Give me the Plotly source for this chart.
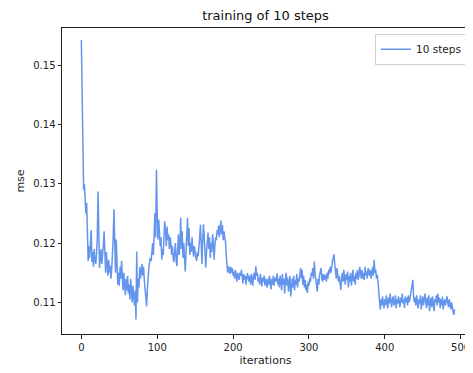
import plotly.graph_objects as go

series_name = "10 steps"
chart_title = "training of 10 steps"
x_label = "iterations"
y_label = "mse"
x_tick_vals = [0, 100, 200, 300, 400, 500]
y_tick_vals = [0.11, 0.12, 0.13, 0.14, 0.15]
y_tick_text = ["0.11", "0.12", "0.13", "0.14", "0.15"]

mse = [
    0.1543, 0.1420, 0.1345, 0.1290, 0.1300, 0.1262, 0.1250, 0.1268, 0.1215, 0.1170,
    0.1195, 0.1175, 0.1200, 0.1222, 0.1168, 0.1185, 0.1160, 0.1190, 0.1172, 0.1165,
    0.1180, 0.1210, 0.1287, 0.1200, 0.1158, 0.1175, 0.1190, 0.1165, 0.1178, 0.1195,
    0.1220, 0.1170, 0.1150, 0.1185, 0.1160, 0.1145, 0.1172, 0.1150, 0.1162, 0.1140,
    0.1155, 0.1175, 0.1210, 0.1257, 0.1190, 0.1150, 0.1206, 0.1165, 0.1130, 0.1150,
    0.1128, 0.1160, 0.1140, 0.1170, 0.1135, 0.1120, 0.1150, 0.1132, 0.1112, 0.1140,
    0.1120, 0.1145, 0.1115, 0.1130, 0.1105, 0.1140, 0.1122, 0.1100, 0.1128, 0.1110,
    0.1095, 0.1120, 0.1071, 0.1186, 0.1100, 0.1140, 0.1125, 0.1160, 0.1140, 0.1152,
    0.1165, 0.1145, 0.1160, 0.1138, 0.1120, 0.1105, 0.1093, 0.1120, 0.1150, 0.1160,
    0.1167, 0.1175, 0.1170, 0.1184, 0.1200, 0.1180, 0.1230, 0.1251, 0.1210, 0.1324,
    0.1250, 0.1206, 0.1240, 0.1215, 0.1195, 0.1210, 0.1172, 0.1190, 0.1180, 0.1215,
    0.1237, 0.1220, 0.1195, 0.1228, 0.1205, 0.1215, 0.1190, 0.1210, 0.1200, 0.1180,
    0.1195, 0.1175, 0.1168, 0.1185, 0.1200, 0.1170, 0.1161, 0.1190, 0.1215, 0.1180,
    0.1200, 0.1243, 0.1190, 0.1220, 0.1175, 0.1200, 0.1160, 0.1152, 0.1185, 0.1210,
    0.1243, 0.1195, 0.1225, 0.1180, 0.1201, 0.1185, 0.1210, 0.1190, 0.1177, 0.1195,
    0.1180, 0.1175, 0.1170, 0.1185, 0.1178, 0.1190, 0.1210, 0.1231, 0.1200, 0.1165,
    0.1205, 0.1232, 0.1210, 0.1190, 0.1159, 0.1185, 0.1200, 0.1218, 0.1190, 0.1210,
    0.1175, 0.1200, 0.1185, 0.1215, 0.1200, 0.1172, 0.1195, 0.1210, 0.1205, 0.1222,
    0.1215, 0.1230, 0.1210, 0.1225, 0.1238, 0.1215, 0.1230, 0.1205, 0.1220, 0.1210,
    0.1203, 0.1180, 0.1165, 0.1150, 0.1161, 0.1155, 0.1148, 0.1160, 0.1150, 0.1158,
    0.1145, 0.1152, 0.1140, 0.1155, 0.1148, 0.1135, 0.1150, 0.1142, 0.1138, 0.1150,
    0.1145, 0.1155, 0.1140, 0.1132, 0.1148, 0.1138, 0.1145, 0.1130, 0.1142, 0.1150,
    0.1140, 0.1135, 0.1145, 0.1130, 0.1148, 0.1140, 0.1128, 0.1145, 0.1150, 0.1138,
    0.1161, 0.1145, 0.1150, 0.1135, 0.1142, 0.1130, 0.1148, 0.1138, 0.1127, 0.1142,
    0.1135, 0.1145, 0.1128, 0.1140, 0.1132, 0.1125, 0.1140, 0.1130, 0.1145, 0.1135,
    0.1122, 0.1140, 0.1130, 0.1145, 0.1128, 0.1138, 0.1142, 0.1135, 0.1149, 0.1130,
    0.1140, 0.1125, 0.1145, 0.1135, 0.1120, 0.1148, 0.1130, 0.1140, 0.1115, 0.1138,
    0.1150, 0.1128, 0.1142, 0.1118, 0.1135, 0.1145, 0.1110, 0.1130, 0.1140, 0.1125,
    0.1145, 0.1120, 0.1138, 0.1130, 0.1148, 0.1125, 0.1140, 0.1135, 0.1150, 0.1158,
    0.1140, 0.1155, 0.1130, 0.1145, 0.1125, 0.1138, 0.1120, 0.1130, 0.1116, 0.1135,
    0.1128, 0.1140, 0.1135, 0.1150, 0.1145, 0.1158, 0.1140, 0.1169, 0.1150, 0.1135,
    0.1128, 0.1118, 0.1140, 0.1130, 0.1145, 0.1150, 0.1158, 0.1140, 0.1135, 0.1148,
    0.1138, 0.1145, 0.1146, 0.1135, 0.1150, 0.1140, 0.1155, 0.1148, 0.1160, 0.1150,
    0.1165, 0.1170, 0.1175, 0.1181, 0.1165, 0.1155, 0.1140, 0.1158, 0.1150, 0.1135,
    0.1145, 0.1128, 0.1121, 0.1140, 0.1150, 0.1135, 0.1155, 0.1140, 0.1130, 0.1148,
    0.1138, 0.1152, 0.1125, 0.1145, 0.1135, 0.1150, 0.1128, 0.1142, 0.1155, 0.1135,
    0.1145, 0.1130, 0.1150, 0.1140, 0.1155, 0.1138, 0.1145, 0.1160, 0.1148, 0.1140,
    0.1155, 0.1140, 0.1150, 0.1138, 0.1160, 0.1145, 0.1152, 0.1140, 0.1158, 0.1148,
    0.1145, 0.1155, 0.1140, 0.1150, 0.1160, 0.1145, 0.1172, 0.1150, 0.1155, 0.1140,
    0.1147, 0.1135, 0.1115, 0.1100, 0.1088, 0.1105, 0.1095, 0.1110, 0.1100, 0.1090,
    0.1105, 0.1095, 0.1112, 0.1100, 0.1090, 0.1108, 0.1098, 0.1115, 0.1100, 0.1092,
    0.1105, 0.1110, 0.1095, 0.1100, 0.1112, 0.1090, 0.1105, 0.1098, 0.1110, 0.1100,
    0.1092, 0.1108, 0.1100, 0.1115, 0.1098, 0.1105, 0.1090, 0.1110, 0.1100, 0.1108,
    0.1095, 0.1112, 0.1100, 0.1105, 0.1115, 0.1120, 0.1125, 0.1138, 0.1110, 0.1100,
    0.1108, 0.1095, 0.1112, 0.1100, 0.1090, 0.1105, 0.1098, 0.1112, 0.1088, 0.1100,
    0.1110, 0.1095, 0.1105, 0.1115, 0.1100, 0.1090, 0.1108, 0.1095, 0.1112, 0.1085,
    0.1100, 0.1108, 0.1092, 0.1110, 0.1098, 0.1085, 0.1105, 0.1100, 0.1112, 0.1095,
    0.1115, 0.1100, 0.1108, 0.1090, 0.1105, 0.1095, 0.1110, 0.1088, 0.1100, 0.1105,
    0.1095, 0.1108, 0.1110, 0.1100, 0.1092, 0.1105, 0.1098, 0.1088, 0.1100, 0.1095,
    0.1085, 0.1079, 0.1088,
]
iterations = list(range(len(mse)))

FONT = "DejaVu Sans"

fig = go.Figure()
fig.add_trace(go.Scatter(
    x=iterations, y=mse, mode="lines", name=series_name,
    line=dict(color="#6495ED", width=1.5),
))

# the page body adds an 8px offset, so the figure is 8px smaller on each axis
fig.update_layout(
    width=465, height=365,
    margin=dict(l=53.5, r=4, t=20.3, b=38.7, pad=0, autoexpand=False),
    paper_bgcolor="white", plot_bgcolor="white",
    font=dict(family=FONT, size=10, color="#222"),
    title=dict(text=chart_title, x=0.5, xref="paper", xanchor="center",
               y=1 - 3 / 365, yref="container", yanchor="top",
               font=dict(family=FONT, size=13, color="#111")),
    showlegend=True,
    legend=dict(x=0.995, y=0.981, xanchor="right", yanchor="top",
                bgcolor="white", bordercolor="#d0d0d0", borderwidth=1,
                font=dict(family=FONT, size=10.5, color="#222"),
                itemwidth=30, tracegroupgap=0),
)
fig.update_xaxes(
    range=[-25.5, 511], tickvals=x_tick_vals, showgrid=False, zeroline=False,
    automargin=False,
    showline=True, linecolor="#222", linewidth=1, mirror=True,
    ticks="outside", ticklen=3.5, tickcolor="#222", tickwidth=1,
    title=dict(text=x_label, standoff=4, font=dict(family=FONT, size=11, color="#222")),
)
fig.update_yaxes(
    range=[0.10466, 0.15632], tickvals=y_tick_vals, ticktext=y_tick_text,
    showgrid=False, zeroline=False, automargin=False,
    showline=True, linecolor="#222", linewidth=1, mirror=True,
    ticks="outside", ticklen=3.5, tickcolor="#222", tickwidth=1,
    title=dict(text=y_label, standoff=6, font=dict(family=FONT, size=11, color="#222")),
)

fig.write_html("out.html")
